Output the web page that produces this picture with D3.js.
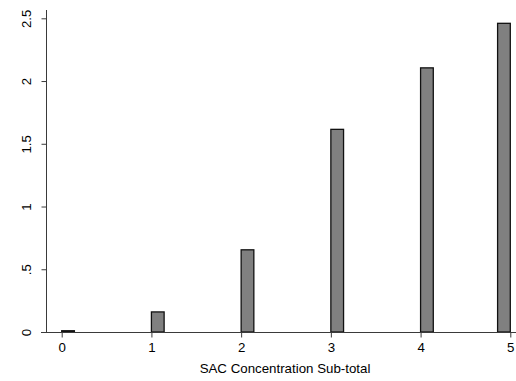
<!DOCTYPE html>
<html><head><meta charset="utf-8">
<script src="https://cdn.jsdelivr.net/npm/d3@7"></script>
<style>body{margin:0;background:#fff}svg{display:block}text{font-family:"Liberation Sans",Arial,sans-serif}</style>
</head><body><svg id="c" width="516" height="381"></svg>
<script>
const categories = [0, 1, 2, 3, 4, 5];
const values = [0.01, 0.16, 0.655, 1.615, 2.105, 2.46];
const yTicks = [0, 0.5, 1, 1.5, 2, 2.5];
const yTickLabels = ["0", ".5", "1", "1.5", "2", "2.5"];
const xTickLabels = ["0", "1", "2", "3", "4", "5"];
const xTitle = "SAC Concentration Sub-total";

const svg = d3.select("#c");
const x = d3.scaleLinear().domain([0, 5]).range([61.7, 510.3]);
const y = d3.scaleLinear().domain([0, 2.5]).range([332, 18.3]);
const barW = 12.7;
const axisColor = "#3a3a3a";
const fs = "13.3px";

// bars
svg.append("g").selectAll("rect").data(categories).join("rect")
  .attr("x", (d) => Math.min(x(d), x.range()[1] - barW))
  .attr("y", (d, i) => y(values[i]))
  .attr("width", barW)
  .attr("height", (d, i) => y(0) - y(values[i]))
  .attr("fill", "#808080")
  .attr("stroke", "#111")
  .attr("stroke-width", 1.3);

// y axis
const ya = svg.append("g").attr("transform", "translate(46.5,0)")
  .call(d3.axisLeft(y).tickValues(yTicks).tickFormat((d, i) => yTickLabels[i]).tickSize(5).tickPadding(9));
ya.select(".domain").remove();
ya.selectAll(".tick line").attr("stroke", axisColor);
ya.selectAll(".tick text")
  .attr("transform", "rotate(-90)")
  .attr("x", 0).attr("y", -16)
  .attr("dy", "0")
  .attr("text-anchor", "middle")
  .style("font-size", fs).attr("fill", "#000");
svg.append("line").attr("x1", 46.5).attr("x2", 46.5).attr("y1", 10).attr("y2", 332.5)
  .attr("stroke", axisColor).attr("stroke-width", 1);

// x axis
const xa = svg.append("g").attr("transform", "translate(0,332.5)")
  .call(d3.axisBottom(x).tickValues(categories).tickFormat((d, i) => xTickLabels[i]).tickSize(5).tickPadding(5));
xa.select(".domain").remove();
xa.selectAll(".tick line").attr("stroke", axisColor);
xa.selectAll(".tick text").style("font-size", fs).attr("fill", "#000");
svg.append("line").attr("x1", 41).attr("x2", 516).attr("y1", 332.5).attr("y2", 332.5)
  .attr("stroke", axisColor).attr("stroke-width", 1);

svg.append("text").attr("x", 285).attr("y", 373).attr("text-anchor", "middle")
  .style("font-size", fs).text(xTitle);
</script></body></html>
